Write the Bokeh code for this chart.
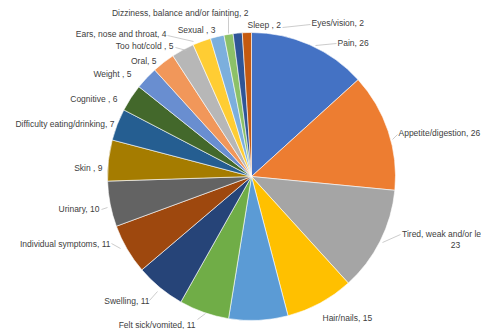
import math
from bokeh.plotting import figure
from bokeh.models import Range1d, ColumnDataSource
from bokeh.core.properties import value
from bokeh.embed import file_html
from bokeh.resources import INLINE

# ---- data (clockwise from 12 o'clock) ----
categories = ["Pain", "Appetite/digestion", "Tired, weak and/or lethargic", "Hair/nails",
              "(label not visible)", "Felt sick/vomited", "Swelling", "Individual symptoms",
              "Urinary", "Skin ", "Difficulty eating/drinking", "Cognitive ", "Weight ",
              "Oral", "Too hot/cold ", "Ears, nose and throat", "Sexual ",
              "Dizziness, balance and/or fainting", "Sleep ", "Eyes/vision"]
counts = [26, 26, 23, 15, 13, 11, 11, 11, 10, 9, 7, 6, 5, 5, 5, 4, 3, 2, 2, 2]
colors = ["#4472C4", "#ED7D31", "#A5A5A5", "#FFC000", "#5B9BD5", "#70AD47",
          "#264478", "#9E480E", "#636363", "#A57C00", "#255E91", "#43682B",
          "#698ED0", "#F1975A", "#B7B7B7", "#FFCD33", "#7CAFDD", "#8CC168",
          "#2F5597", "#C55A11"]

# ---- layout (pixels of the reference picture) ----
W, H = 481, 329
def sx(x): return x
def sy(y): return H - y

CX, CY, R = sx(251), sy(176), 144

# label anchors: (x, y, align); None = label not shown
label_pos = [(337, 42, "left"), (398, 132, "left"), (455, 228, "center"), (322, 317, "left"),
             None, (195, 324, "right"), (149, 300, "right"), (110, 243, "right"),
             (99, 208, "right"), (102, 167, "right"), (114, 123, "right"), (117, 98, "right"),
             (131, 73, "right"), (156, 60, "right"), (173, 45, "right"), (166, 33, "right"),
             (215, 29, "right"), (248, 12, "right"), (247, 24, "left"), (311, 22, "left")]

leaders = [((228, 16), (228, 33)), ((167, 35), (193, 41)), ((175, 47), (186, 50)),
           ((310, 24), (282, 27)), ((336, 43), (315, 45)), ((397, 134), (392, 139)),
           ((400, 234), (382, 242)), ((149, 300), (157, 291)), ((197, 319), (205, 313)),
           ((111, 243), (120, 248)), ((101, 209), (107, 207))]

total = sum(counts)
starts, ends = [], []
cum = 0
for c in counts:
    starts.append(math.pi / 2 - 2 * math.pi * cum / total)
    cum += c
    ends.append(math.pi / 2 - 2 * math.pi * cum / total)

p = figure(width=W, height=H, x_range=Range1d(0, W), y_range=Range1d(0, H),
           output_backend="svg", toolbar_location=None, min_border=0)
p.axis.visible = False
p.grid.visible = False
p.outline_line_color = None
p.background_fill_color = "white"

src = ColumnDataSource(dict(start=starts, end=ends, color=colors, cat=categories, n=counts))
p.wedge(x=CX, y=CY, radius=R, start_angle="start", end_angle="end", direction="clock",
        fill_color="color", line_color="white", line_width=0.6, source=src)

for (a, b) in leaders:
    p.line([sx(a[0]), sx(b[0])], [sy(a[1]), sy(b[1])], line_color="#BFBFBF", line_width=0.8)

for cat, n, pos in zip(categories, counts, label_pos):
    if pos is None:
        continue
    x, y, al = pos
    if cat.startswith("Tired"):
        txt = cat + ",\n" + str(n)
        base = "top"
    else:
        txt = f"{cat}, {n}"
        base = "middle"
    p.text(x=[sx(x)], y=[sy(y)], text=[txt], text_align=al, text_baseline=base,
           text_font=value("Liberation Sans"), text_font_size="8.5px",
           text_color="#404040", text_line_height=1.1)

open("out.html", "w").write(file_html(p, INLINE))
